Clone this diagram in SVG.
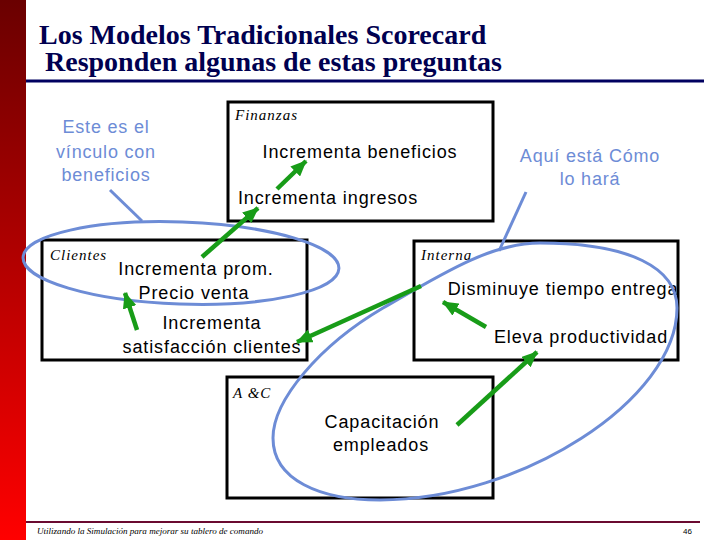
<svg xmlns="http://www.w3.org/2000/svg" width="720" height="540" viewBox="0 0 720 540">
<defs>
<linearGradient id="bar" x1="0" y1="0" x2="0" y2="1">
<stop offset="0" stop-color="#6a0000"/>
<stop offset="1" stop-color="#ff0000"/>
</linearGradient>
<marker id="gh" markerUnits="userSpaceOnUse" markerWidth="16" markerHeight="14" viewBox="0 0 16 14" refX="15" refY="7" orient="auto">
<path d="M0,0 L16,7 L0,14 Z" fill="#189c18"/>
</marker>
<style>
.box{fill:#fff;stroke:#000;stroke-width:3}
.t{font-family:"Liberation Sans",Arial,sans-serif;font-size:18px;letter-spacing:0.9px;fill:#000;text-anchor:middle}
.b{font-family:"Liberation Sans",Arial,sans-serif;font-size:18px;letter-spacing:0.8px;fill:#6d8cd6;text-anchor:middle}
.lab{font-family:"Liberation Serif","Times New Roman",serif;font-style:italic;font-size:15px;letter-spacing:1px;fill:#000}
.title{font-family:"Liberation Serif","Times New Roman",serif;font-weight:bold;font-size:28px;fill:#000050}
.g{stroke:#189c18;stroke-width:4.5;fill:none;marker-end:url(#gh)}
.bl{stroke:#6d8cd6;stroke-width:3;fill:none}
</style>
</defs>
<rect x="0" y="0" width="720" height="540" fill="#fff"/>
<rect x="0" y="0" width="26" height="540" fill="url(#bar)"/>
<g id="title">
<text class="title" x="39" y="44">Los Modelos Tradicionales Scorecard</text>
<text class="title" x="45" y="71">Responden algunas de estas preguntas</text>
<line x1="26" y1="81" x2="704" y2="81" stroke="#000060" stroke-width="3"/>
</g>
<g id="finanzas">
<rect class="box" x="228" y="102" width="265" height="119"/>
<text class="lab" x="235" y="120">Finanzas</text>
<text class="t" x="360" y="158">Incrementa beneficios</text>
<text class="t" x="328" y="204">Incrementa ingresos</text>
</g>
<g id="clientes">
<rect class="box" x="42" y="240" width="265" height="120"/>
<text class="lab" x="50" y="260">Clientes</text>
<text class="t" x="196" y="275">Incrementa prom.</text>
<text class="t" x="194" y="299">Precio venta</text>
<text class="t" x="212" y="329">Incrementa</text>
<text class="t" x="212" y="353">satisfacción clientes</text>
</g>
<g id="interna">
<rect class="box" x="414" y="241" width="264" height="119"/>
<text class="lab" x="421" y="260">Interna</text>
<text class="t" x="563" y="295">Disminuye tiempo entrega</text>
<text class="t" x="581" y="343">Eleva productividad</text>
</g>
<g id="ayc">
<rect class="box" x="227" y="377" width="266" height="121"/>
<text class="lab" x="233" y="398">A &amp;C</text>
<text class="t" x="382" y="428">Capacitación</text>
<text class="t" x="381" y="451">empleados</text>
</g>
<g id="nota-vinculo">
<text class="b" x="106" y="133">Este es el</text>
<text class="b" x="106" y="158">vínculo con</text>
<text class="b" x="106" y="181">beneficios</text>
</g>
<g id="nota-como">
<text class="b" x="590" y="162">Aquí está Cómo</text>
<text class="b" x="590" y="185">lo hará</text>
</g>
<g id="connectors">
<ellipse class="bl" cx="181" cy="263" rx="158" ry="41" transform="rotate(2 181 263)"/>
<path class="bl" d="M540,243 C630,243 677,268 677,308 C677,400 520,500 380,500 C320,500 273,480 273,438 C273,400 320,345 383,308 C440,275 490,243 540,243 Z"/>
<line class="bl" x1="110" y1="190" x2="142" y2="221"/>
<line class="bl" x1="526" y1="192" x2="499" y2="251"/>
<line class="g" x1="277" y1="189" x2="306" y2="161"/>
<line class="g" x1="202" y1="257" x2="258" y2="208"/>
<line class="g" x1="137" y1="330" x2="125" y2="293"/>
<line class="g" x1="421" y1="286" x2="297" y2="342"/>
<line class="g" x1="486" y1="327" x2="443" y2="302"/>
<line class="g" x1="457" y1="425" x2="537" y2="352"/>
</g>
<g id="footer">
<line x1="26" y1="522" x2="700" y2="522" stroke="#6a0a30" stroke-width="2"/>
<text x="37" y="534" font-family="'Liberation Serif',serif" font-style="italic" font-size="8.5" textLength="226" lengthAdjust="spacingAndGlyphs" fill="#000">Utilizando la Simulación para mejorar su tablero de comando</text>
<text x="683" y="534" font-family="'Liberation Sans',sans-serif" font-size="8" fill="#000">46</text>
</g>
</svg>
